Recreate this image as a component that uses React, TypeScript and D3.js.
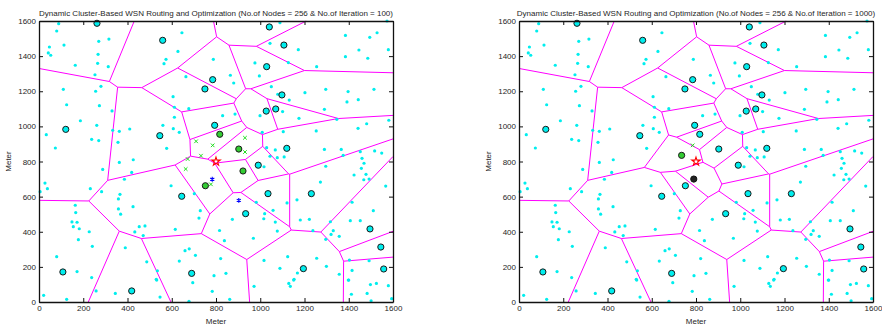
import React, { useEffect, useRef } from 'react';
import * as d3 from 'd3';

// sensor nodes (meters) - same field in both runs
const sensorNodes: [number, number][] = [
  [89, 1585], [80, 1543], [47, 1452], [113, 1463], [42, 1418], [53, 1405], [270, 1484], [316, 1497],
  [267, 1410], [164, 1348], [265, 1359], [313, 1340], [253, 1294], [280, 1228], [110, 1211], [256, 1200],
  [125, 1123], [273, 1118], [330, 1088], [187, 1032], [261, 1006], [33, 953], [333, 978], [363, 972],
  [410, 985], [238, 926], [270, 919], [357, 909], [74, 877], [363, 795], [426, 810], [288, 755],
  [27, 677], [5, 628], [38, 645], [419, 738], [386, 699], [232, 645], [283, 628], [366, 613],
  [359, 587], [359, 530], [369, 500], [425, 543], [164, 551], [166, 509], [149, 456], [172, 454],
  [155, 429], [182, 417], [227, 400], [453, 429], [479, 433], [433, 399], [471, 378], [178, 355],
  [241, 317], [390, 309], [80, 258], [487, 229], [172, 173], [238, 139], [258, 63], [345, 49],
  [21, 38], [125, 15], [532, 125], [547, 28], [678, 4], [695, 110], [783, 61], [862, 15],
  [972, 89], [1129, 106], [1136, 89], [1151, 125], [1400, 125], [1412, 44], [1483, 49], [1498, 99],
  [1501, 7], [1525, 106], [1579, 93], [1594, 19],
  [646, 1533], [628, 1427], [574, 1382], [565, 1357], [788, 1382], [976, 1361], [996, 1287], [865, 1291],
  [880, 1247], [664, 1283], [606, 1169], [677, 1101], [612, 1109], [612, 1052], [560, 1006], [607, 987],
  [634, 966], [830, 1061], [886, 1070], [999, 1061], [1050, 1226], [1079, 1183], [1127, 1363], [1101, 1084],
  [1104, 970], [1009, 966], [577, 875], [1029, 879], [1068, 866], [1044, 830], [1077, 822], [1108, 826],
  [1089, 1590], [1044, 1473],
  [597, 662], [702, 617], [729, 520], [723, 478], [616, 414], [816, 407], [874, 471], [838, 349],
  [969, 363], [982, 568], [1020, 503], [1016, 474], [1058, 522], [1068, 455], [1077, 404], [1121, 564],
  [1017, 770], [660, 292], [679, 303], [707, 266], [634, 233], [821, 247], [1017, 237], [1089, 192],
  [1124, 258], [535, 178], [530, 129], [791, 150], [845, 163],
  [1172, 1437], [1255, 1340], [1385, 1518], [1495, 1507], [1528, 1533], [1573, 1600], [1446, 1435], [1385, 1397],
  [1486, 1388], [1579, 1437], [1202, 1192], [1296, 1211], [1397, 1198], [1392, 1139], [1443, 1152], [1514, 1211],
  [1131, 1150], [1290, 1097], [1175, 1046], [1346, 1040], [1481, 1015], [1442, 989], [1581, 1035], [1253, 974],
  [1290, 869], [1366, 869], [1375, 835], [1452, 856], [1460, 818], [1469, 790], [1517, 860], [1549, 848],
  [1457, 761], [1296, 773], [1424, 723], [1478, 727], [1468, 696], [1492, 700], [1272, 683], [1567, 660],
  [1166, 582], [1415, 568], [1511, 520], [1181, 467], [1222, 471], [1317, 457], [1407, 463], [1452, 463],
  [1238, 406], [1330, 406], [1320, 385], [1357, 374], [1296, 357], [1255, 249], [1403, 239], [1492, 235],
  [1299, 203], [1415, 180], [1357, 158], [1168, 165], [1153, 129], [1398, 125],
];

// cluster heads shared by both runs
const headsCommon: [number, number][] = [
  [262, 1587], [559, 1490], [1041, 1566], [1107, 1463], [1029, 1340], [785, 1266], [750, 1213],
  [1098, 1179], [1027, 1087], [1070, 1099], [121, 983], [794, 1006], [546, 947], [1120, 875],
  [991, 779], [645, 602], [1035, 617], [1231, 617], [934, 503], [108, 171], [690, 163], [419, 63],
  [1195, 190], [1496, 416], [1545, 313], [1558, 188],
];

// iteration = 100
const heads100: [number, number][] = [];
const greenHeads100: [number, number][] = [[817, 955], [903, 871], [922, 746], [752, 662]];
const members100: [number, number][] = [
  [710, 915], [785, 892], [931, 935], [931, 854], [732, 833], [672, 814], [663, 757], [777, 670],
];
const blue100: [number, number][] = [[903, 579], [783, 699]];

// iteration = 1000
const heads1000: [number, number][] = [[817, 955], [903, 871], [752, 662]];
const greenHeads1000: [number, number][] = [[735, 835]];
const darkHeads1000: [number, number][] = [[790, 700]];
const members1000: [number, number][] = [[785, 892]];
const blue1000: [number, number][] = [];

const sink: [number, number] = [800, 800];
const ticks = [0, 200, 400, 600, 800, 1000, 1200, 1400, 1600];

const panels = [
  { left: 39, iter: 100, heads: heads100, green: greenHeads100, dark: [] as [number, number][], members: members100, blue: blue100 },
  { left: 519, iter: 1000, heads: heads1000, green: greenHeads1000, dark: darkHeads1000, members: members1000, blue: blue1000 },
];

const W = 354, TOP = 21, BOTTOM = 302;
const FONT = '"Liberation Sans", Arial, sans-serif';

export default function App() {
  const ref = useRef<SVGSVGElement>(null);

  useEffect(() => {
    const svg = d3.select(ref.current);
    svg.selectAll('*').remove();

    panels.forEach((p) => {
      const x = d3.scaleLinear().domain([0, 1600]).range([p.left, p.left + W]);
      const y = d3.scaleLinear().domain([0, 1600]).range([BOTTOM, TOP]);
      const g = svg.append('g');

      // voronoi of the cluster heads
      const gens = [...headsCommon, ...p.heads, ...p.green, ...p.dark];
      const vor = d3.Delaunay.from(gens).voronoi([0, 0, 1600, 1600]);
      const path = d3.path();
      vor.render({
        moveTo: (a: number, b: number) => path.moveTo(x(a), y(b)),
        lineTo: (a: number, b: number) => path.lineTo(x(a), y(b)),
        closePath: () => path.closePath(),
      } as any);
      g.append('path').attr('d', path.toString()).attr('fill', 'none').attr('stroke', '#ff00ff').attr('stroke-width', 1);

      // nodes
      g.selectAll('.node').data(sensorNodes).enter().append('circle')
        .attr('cx', (d) => x(d[0])).attr('cy', (d) => y(d[1])).attr('r', 1.6)
        .attr('fill', '#00eeee');

      // member nodes in current round
      g.selectAll('.mem').data(p.members).enter().append('path')
        .attr('d', (d) => `M${x(d[0]) - 1.8},${y(d[1]) - 1.8}L${x(d[0]) + 1.8},${y(d[1]) + 1.8}M${x(d[0]) - 1.8},${y(d[1]) + 1.8}L${x(d[0]) + 1.8},${y(d[1]) - 1.8}`)
        .attr('stroke', '#22dd22').attr('stroke-width', 1);

      // cluster heads
      const allHeads = [...headsCommon, ...p.heads];
      g.selectAll('.head').data(allHeads).enter().append('circle')
        .attr('cx', (d) => x(d[0])).attr('cy', (d) => y(d[1])).attr('r', 3.1)
        .attr('fill', '#00eeee').attr('stroke', '#1a1a1a').attr('stroke-width', 1);
      g.selectAll('.ghead').data(p.green).enter().append('circle')
        .attr('cx', (d) => x(d[0])).attr('cy', (d) => y(d[1])).attr('r', 3.1)
        .attr('fill', '#33cc33').attr('stroke', '#1a1a1a').attr('stroke-width', 1);
      g.selectAll('.dhead').data(p.dark).enter().append('circle')
        .attr('cx', (d) => x(d[0])).attr('cy', (d) => y(d[1])).attr('r', 3.1)
        .attr('fill', '#222').attr('stroke', '#111').attr('stroke-width', 1);

      g.selectAll('.blue').data(p.blue).enter().append('path')
        .attr('transform', (d) => `translate(${x(d[0])},${y(d[1])})`)
        .attr('d', d3.symbol(d3.symbolAsterisk, 16)() as string)
        .attr('stroke', '#0000ff').attr('stroke-width', 1.1).attr('fill', 'none');

      // sink
      g.append('path')
        .attr('transform', `translate(${x(sink[0])},${y(sink[1])})`)
        .attr('d', d3.symbol(d3.symbolStar, 22)() as string)
        .attr('stroke', '#ff0000').attr('stroke-width', 1.1).attr('fill', 'none');

      // axes
      const ax = g.append('g').style('font-family', FONT).style('font-size', '8px');
      const bottom = ax.append('g').attr('transform', `translate(0,${BOTTOM})`)
        .call(d3.axisBottom(x).tickValues(ticks).tickSizeInner(-4).tickSizeOuter(0).tickPadding(3).tickFormat(d3.format('d')));
      ax.append('g').attr('transform', `translate(0,${TOP})`)
        .call(d3.axisTop(x).tickValues(ticks).tickSizeInner(-4).tickSizeOuter(0).tickFormat(() => ''));
      const leftAx = ax.append('g').attr('transform', `translate(${p.left},0)`)
        .call(d3.axisLeft(y).tickValues(ticks).tickSizeInner(-4).tickSizeOuter(0).tickPadding(3).tickFormat(d3.format('d')));
      ax.append('g').attr('transform', `translate(${p.left + W},0)`)
        .call(d3.axisRight(y).tickValues(ticks).tickSizeInner(-4).tickSizeOuter(0).tickFormat(() => ''));
      ax.selectAll('.domain').attr('stroke', '#111').attr('stroke-width', 1.3);
      ax.selectAll('.tick line').attr('stroke', '#111');
      ax.selectAll('.tick text').attr('fill', '#262626').style('font-family', FONT).style('font-size', '8px');
      bottom.selectAll('.tick text').attr('dy', '0.71em');
      leftAx.selectAll('.tick text').attr('dy', '0.32em');

      g.append('text').attr('x', p.left + W / 2).attr('y', 15.5).attr('text-anchor', 'middle')
        .attr('fill', '#262626').style('font-family', FONT).style('font-size', '8px')
        .text(`Dynamic Cluster-Based WSN Routing and Optimization (No.of Nodes = 256 & No.of Iteration = ${p.iter})`);
      g.append('text').attr('x', p.left + W / 2).attr('y', 324).attr('text-anchor', 'middle')
        .attr('fill', '#262626').style('font-family', FONT).style('font-size', '8px').text('Meter');
      g.append('text').attr('transform', `translate(${p.left - 28},${(TOP + BOTTOM) / 2}) rotate(-90)`)
        .attr('text-anchor', 'middle').attr('fill', '#262626').style('font-family', FONT).style('font-size', '8px').text('Meter');
    });
  }, []);

  return (
    <svg ref={ref} width={882} height={328} style={{ position: 'absolute', left: 0, top: 0, background: '#fff' }} />
  );
}
